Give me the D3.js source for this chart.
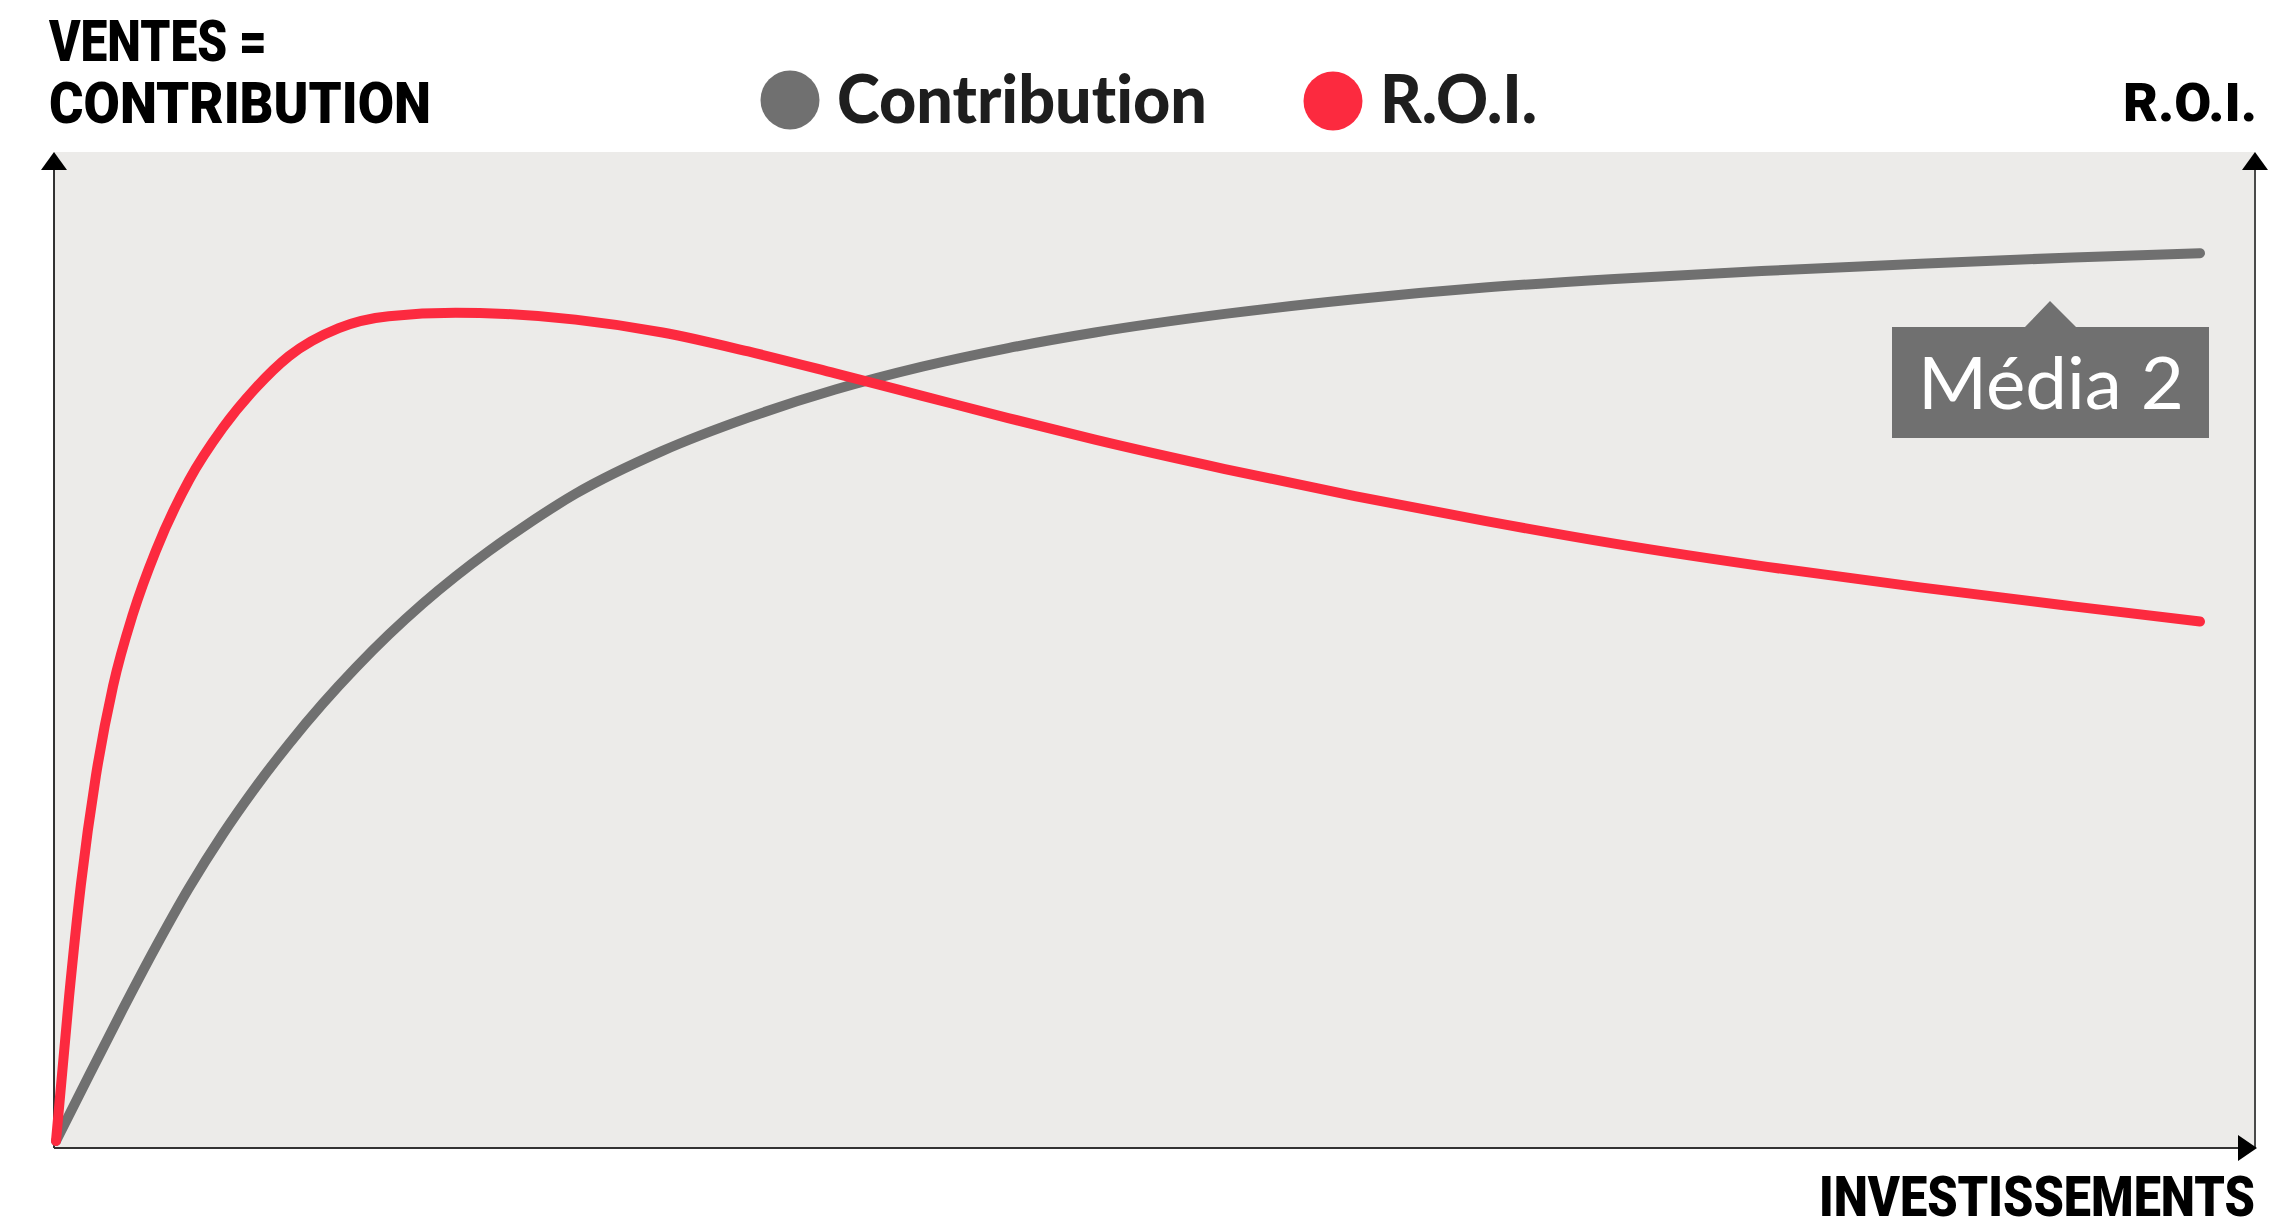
<!DOCTYPE html>
<html lang="fr">
<head>
<meta charset="utf-8">
<title>Contribution et R.O.I.</title>
<script src="https://cdn.jsdelivr.net/npm/d3@7/dist/d3.min.js"></script>
<style>
  html, body { margin: 0; padding: 0; background: #ffffff; }
  svg { display: block; }
  text { font-variant-ligatures: none; font-feature-settings: "liga" 0, "clig" 0; }
</style>
</head>
<body>
<div id="chart"></div>
<script>
// Contribution curve: investissement (0–100) -> ventes (0–100)
const contributionX = [0, 1.54, 3.12, 4.66, 6.2, 7.78, 9.32, 10.86, 12.44, 13.98, 15.52, 17.1, 18.64,
  20.18, 21.76, 24.23, 28.29, 32.29, 36.35, 40.4, 44.41, 48.46, 54.52, 60.58, 66.64, 72.69, 79.82,
  86.95, 94.08, 100];
const contributionY = [0, 6.62, 13.34, 19.65, 25.58, 31.03, 35.8, 40.14, 44.22, 47.85, 51.19, 54.32, 57.09,
  59.63, 62.03, 65.44, 69.78, 73.14, 75.98, 78.29, 80.17, 81.75, 83.63, 85.11, 86.29, 87.17, 87.99,
  88.7, 89.34, 89.77];

// R.O.I. curve: investissement (0–100) -> R.O.I. (0–100)
const roiX = [0, 0.61, 1.16, 1.86, 2.66, 3.59, 4.66, 6.2, 7.78, 9.32, 10.86, 13.19, 15.52, 18.64,
  20.97, 24.23, 28.29, 32.29, 36.35, 40.4, 44.41, 48.46, 54.52, 60.58, 66.64, 72.69, 79.82, 86.95,
  94.08, 100];
const roiY = [0, 14.6, 25.9, 36.9, 46.0, 53.3, 59.7, 66.8, 72.1, 76.15, 79.35, 82.2, 83.4, 83.75,
  83.62, 83.05, 81.75, 79.83, 77.62, 75.35, 73.1, 70.91, 67.94, 65.21, 62.7, 60.4, 58.05, 55.98,
  54.06, 52.52];

const seriesNames = ["Contribution", "R.O.I."];
const seriesColors = ["#707070", "#fc2a3f"];
const titleLines = ["VENTES =", "CONTRIBUTION"];
const xAxisLabel = "INVESTISSEMENTS";
const rightAxisLabel = "R.O.I.";
const calloutLabel = "Média 2";

const W = 2295, H = 1223;
const frame = { left: 54, right: 2255, top: 152, bottom: 1148 };

const svg = d3.select("#chart").append("svg")
  .attr("width", W).attr("height", H)
  .attr("viewBox", `0 0 ${W} ${H}`);

const x = d3.scaleLinear().domain([0, 100]).range([56, 2200]);
const y = d3.scaleLinear().domain([0, 100]).range([1141, 152]);

// plotting area
svg.append("rect")
  .attr("x", frame.left).attr("y", frame.top)
  .attr("width", frame.right - frame.left)
  .attr("height", frame.bottom - frame.top)
  .attr("fill", "#ecebe9");

// axes with arrowheads
const axes = svg.append("g");
axes.append("line")
  .attr("x1", frame.left).attr("x2", frame.left)
  .attr("y1", frame.bottom).attr("y2", frame.top + 16)
  .attr("stroke", "#000").attr("stroke-width", 1.6);
axes.append("path")
  .attr("d", `M${frame.left},${frame.top} L${frame.left + 13},${frame.top + 18} L${frame.left - 13},${frame.top + 18}Z`)
  .attr("fill", "#000");

axes.append("line")
  .attr("x1", frame.right).attr("x2", frame.right)
  .attr("y1", frame.bottom).attr("y2", frame.top + 16)
  .attr("stroke", "#4a4a4a").attr("stroke-width", 2);
axes.append("path")
  .attr("d", `M${frame.right},${frame.top} L${frame.right + 13},${frame.top + 18} L${frame.right - 13},${frame.top + 18}Z`)
  .attr("fill", "#000");

axes.append("line")
  .attr("x1", frame.left).attr("x2", frame.right - 16)
  .attr("y1", frame.bottom).attr("y2", frame.bottom)
  .attr("stroke", "#333").attr("stroke-width", 2.2);
axes.append("path")
  .attr("d", `M${frame.right + 2},${frame.bottom} L${frame.right - 17},${frame.bottom - 13} L${frame.right - 17},${frame.bottom + 13}Z`)
  .attr("fill", "#000");

// curves
const line = d3.line()
  .x(d => x(d[0]))
  .y(d => y(d[1]))
  .curve(d3.curveMonotoneX);

const series = [
  contributionX.map((v, j) => [v, contributionY[j]]),
  roiX.map((v, j) => [v, roiY[j]])
];
series.forEach((pts, i) => {
  svg.append("path")
    .datum(pts)
    .attr("d", line)
    .attr("fill", "none")
    .attr("stroke", seriesColors[i])
    .attr("stroke-width", 10)
    .attr("stroke-linecap", "round")
    .attr("stroke-linejoin", "round");
});

// callout box under the contribution curve
const callout = svg.append("g");
callout.append("path")
  .attr("d", "M1892,327 L2025,327 L2050,301 L2076,327 L2209,327 L2209,438 L1892,438Z")
  .attr("fill", "#707070");
callout.append("text")
  .attr("x", 2051).attr("y", 409)
  .attr("text-anchor", "middle")
  .attr("font-family", "Lato, 'Noto Sans', sans-serif")
  .attr("font-weight", 400)
  .attr("font-size", 72)
  .attr("fill", "#ffffff")
  .attr("textLength", 266)
  .attr("lengthAdjust", "spacingAndGlyphs")
  .text(calloutLabel);

// titles and axis labels
const heavy = "Roboto, Lato, 'DejaVu Sans', sans-serif";
const titleSpecs = [
  { t: titleLines[0], x: 49, y: 61, w: 218 },
  { t: titleLines[1], x: 49, y: 123, w: 382 }
];
titleSpecs.forEach(s => {
  svg.append("text")
    .attr("x", s.x).attr("y", s.y)
    .attr("font-family", heavy).attr("font-weight", 900)
    .attr("font-size", 57).attr("fill", "#000")
    .attr("textLength", s.w).attr("lengthAdjust", "spacingAndGlyphs")
    .text(s.t);
});

svg.append("text")
  .attr("x", 2257).attr("y", 121)
  .attr("text-anchor", "end")
  .attr("font-family", heavy).attr("font-weight", 900)
  .attr("font-size", 53).attr("fill", "#000")
  .attr("textLength", 134).attr("lengthAdjust", "spacingAndGlyphs")
  .text(rightAxisLabel);

svg.append("text")
  .attr("x", 2255).attr("y", 1216)
  .attr("text-anchor", "end")
  .attr("font-family", heavy).attr("font-weight", 900)
  .attr("font-size", 55).attr("fill", "#000")
  .attr("textLength", 436).attr("lengthAdjust", "spacingAndGlyphs")
  .text(xAxisLabel);

// legend
const legendSpecs = [
  { cx: 790, cy: 100, tx: 837, w: 370 },
  { cx: 1333, cy: 101, tx: 1380, w: 157 }
];
legendSpecs.forEach((s, i) => {
  svg.append("circle")
    .attr("cx", s.cx).attr("cy", s.cy).attr("r", 29.5)
    .attr("fill", seriesColors[i]);
  svg.append("text")
    .attr("x", s.tx).attr("y", 123)
    .attr("font-family", "Lato, Roboto, sans-serif").attr("font-weight", 900)
    .attr("font-size", 66).attr("fill", "#1e1e1e")
    .attr("textLength", s.w).attr("lengthAdjust", "spacingAndGlyphs")
    .text(seriesNames[i]);
});
</script>
</body>
</html>
